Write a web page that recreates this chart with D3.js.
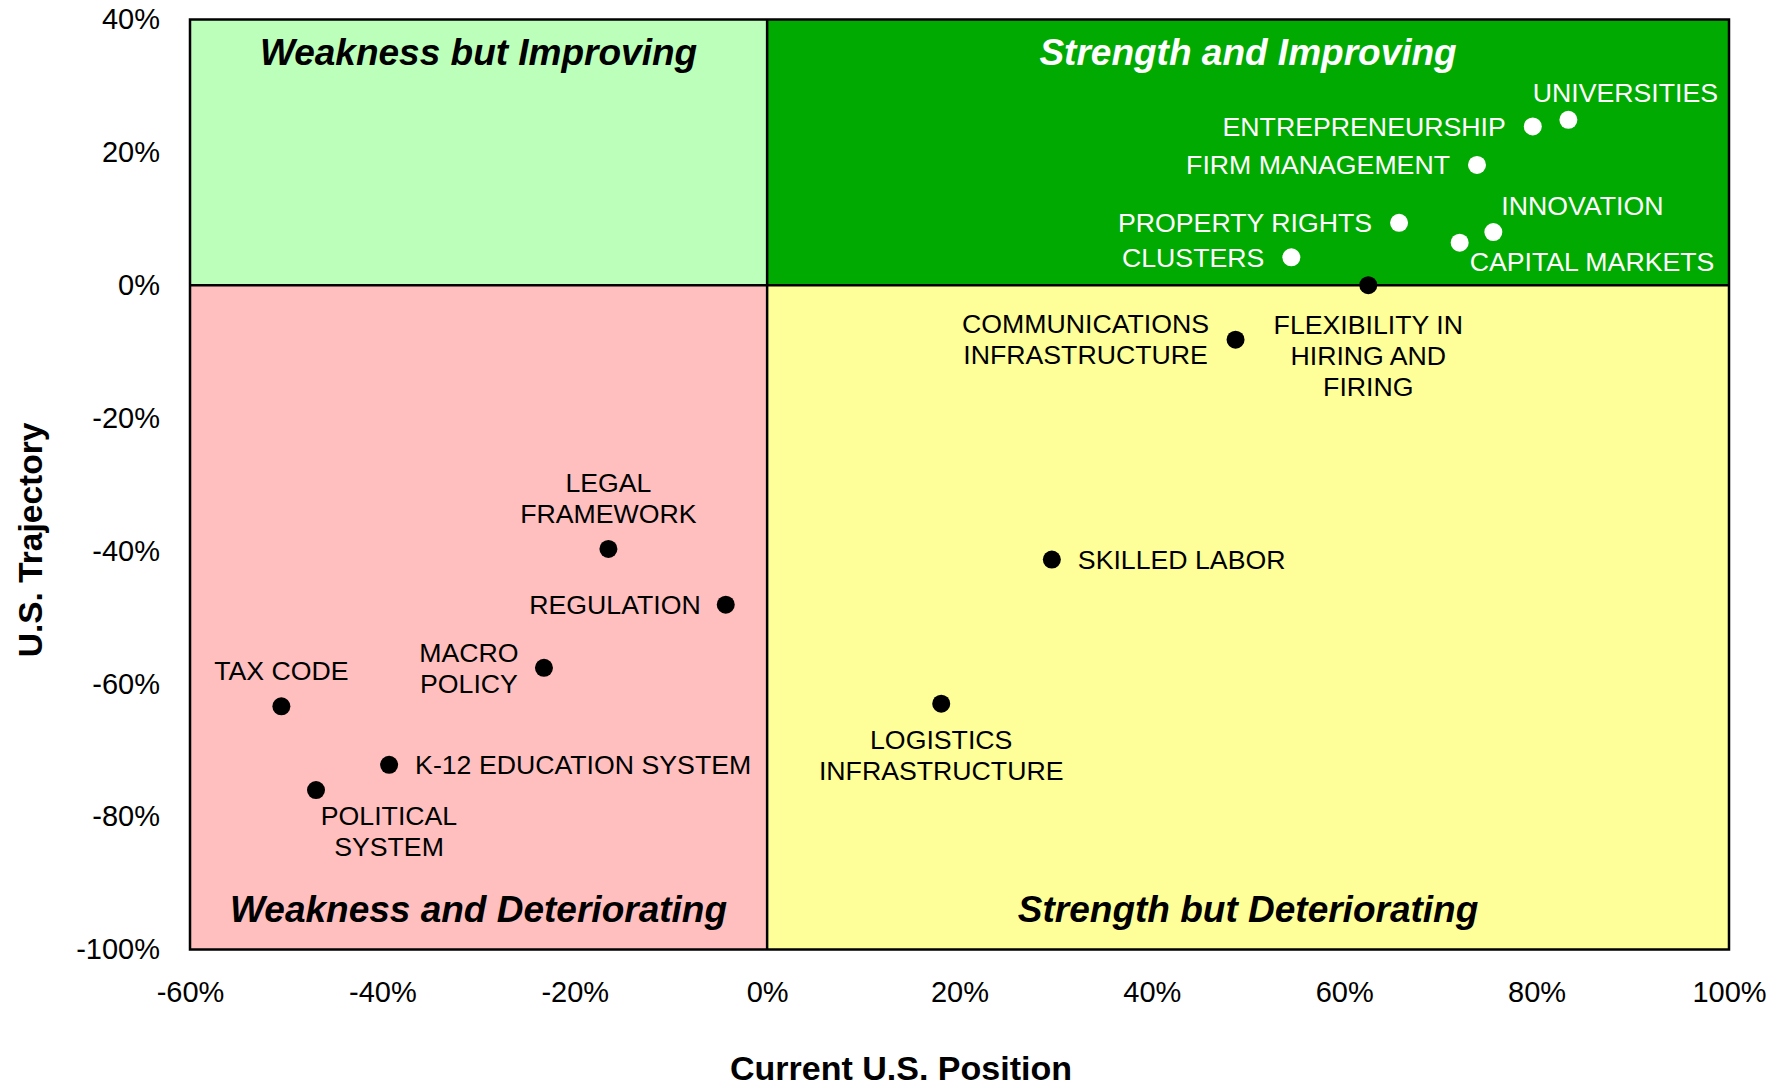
<!DOCTYPE html>
<html>
<head>
<meta charset="utf-8">
<script src="https://cdn.jsdelivr.net/npm/d3@7/dist/d3.min.js"></script>
<style>
  body { margin: 0; background: #ffffff; }
  svg { display: block; }
  text { font-family: "Liberation Sans", Arial, Helvetica, sans-serif; }
</style>
</head>
<body>
<svg class="quad-chart"></svg>
<script>
// factor names ("|" = line break in the label)
const names = [
  "UNIVERSITIES",
  "ENTREPRENEURSHIP",
  "FIRM MANAGEMENT",
  "PROPERTY RIGHTS",
  "INNOVATION",
  "CAPITAL MARKETS",
  "CLUSTERS",
  "FLEXIBILITY IN|HIRING AND|FIRING",
  "COMMUNICATIONS|INFRASTRUCTURE",
  "SKILLED LABOR",
  "LOGISTICS|INFRASTRUCTURE",
  "LEGAL|FRAMEWORK",
  "REGULATION",
  "MACRO|POLICY",
  "TAX CODE",
  "K-12 EDUCATION SYSTEM",
  "POLITICAL|SYSTEM"
];
// current U.S. position (x)
const position = [0.833, 0.796, 0.738, 0.657, 0.755, 0.72, 0.545, 0.625, 0.487,
  0.296, 0.181, -0.165, -0.043, -0.232, -0.505, -0.393, -0.469];
// U.S. trajectory (y)
const trajectory = [0.249, 0.239, 0.181, 0.094, 0.08, 0.064, 0.042, 0.0, -0.082,
  -0.413, -0.63, -0.397, -0.481, -0.576, -0.634, -0.722, -0.76];

const xTicks = [-0.6, -0.4, -0.2, 0, 0.2, 0.4, 0.6, 0.8, 1.0];
const yTicks = [0.4, 0.2, 0, -0.2, -0.4, -0.6, -0.8, -1.0];

const quadrantTitles = [
  "Weakness but Improving",
  "Strength and Improving",
  "Weakness and Deteriorating",
  "Strength but Deteriorating"
];

// where each label sits relative to its dot
const labelPlacement = {
  "UNIVERSITIES": { anchor: "middle", dx: 57, dy: -27 },
  "ENTREPRENEURSHIP": { anchor: "end", dx: -27, dy: 0 },
  "FIRM MANAGEMENT": { anchor: "end", dx: -27, dy: 0 },
  "PROPERTY RIGHTS": { anchor: "end", dx: -27, dy: 0 },
  "INNOVATION": { anchor: "start", dx: 8, dy: -26 },
  "CAPITAL MARKETS": { anchor: "start", dx: 10, dy: 19 },
  "CLUSTERS": { anchor: "end", dx: -27, dy: 0 },
  "FLEXIBILITY IN|HIRING AND|FIRING": { anchor: "middle", dx: 0, dy: 39 },
  "COMMUNICATIONS|INFRASTRUCTURE": { anchor: "middle", dx: -150, dy: -16 },
  "SKILLED LABOR": { anchor: "start", dx: 26, dy: 0 },
  "LOGISTICS|INFRASTRUCTURE": { anchor: "middle", dx: 0, dy: 36 },
  "LEGAL|FRAMEWORK": { anchor: "middle", dx: 0, dy: -66 },
  "REGULATION": { anchor: "end", dx: -25, dy: 0 },
  "MACRO|POLICY": { anchor: "middle", dx: -75, dy: -15 },
  "TAX CODE": { anchor: "middle", dx: 0, dy: -36 },
  "K-12 EDUCATION SYSTEM": { anchor: "start", dx: 26, dy: 0 },
  "POLITICAL|SYSTEM": { anchor: "middle", dx: 73, dy: 26 }
};

const W = 1785, H = 1088;
const margin = { top: 19.5, right: 56, bottom: 138.5, left: 190 };
const labelSize = 26.7, lineHeight = 31;

const svg = d3.select(".quad-chart").attr("width", W).attr("height", H);

const x = d3.scaleLinear()
  .domain([xTicks[0], xTicks[xTicks.length - 1]])
  .range([margin.left, W - margin.right]);
const y = d3.scaleLinear()
  .domain([yTicks[yTicks.length - 1], yTicks[0]])
  .range([H - margin.bottom, margin.top]);

const pct = function (d) {
  return d3.format(".0%")(d).replace("\u2212", "-");
};

// quadrant backgrounds
const quads = [
  { x0: xTicks[0], x1: 0, y0: 0, y1: yTicks[0], fill: "#bbffbb", color: "#000", top: true },
  { x0: 0, x1: xTicks[xTicks.length - 1], y0: 0, y1: yTicks[0], fill: "#00aa00", color: "#fff", top: true },
  { x0: xTicks[0], x1: 0, y0: yTicks[yTicks.length - 1], y1: 0, fill: "#ffbfbf", color: "#000", top: false },
  { x0: 0, x1: xTicks[xTicks.length - 1], y0: yTicks[yTicks.length - 1], y1: 0, fill: "#ffff99", color: "#000", top: false }
];

svg.append("g")
  .selectAll("rect")
  .data(quads)
  .enter()
  .append("rect")
  .attr("x", function (d) { return x(d.x0); })
  .attr("y", function (d) { return y(d.y1); })
  .attr("width", function (d) { return x(d.x1) - x(d.x0); })
  .attr("height", function (d) { return y(d.y0) - y(d.y1); })
  .attr("fill", function (d) { return d.fill; });

svg.append("g")
  .selectAll("text")
  .data(quads)
  .enter()
  .append("text")
  .attr("x", function (d) { return (x(d.x0) + x(d.x1)) / 2; })
  .attr("y", function (d) { return d.top ? y(d.y1) + 45 : y(d.y0) - 28; })
  .attr("text-anchor", "middle")
  .style("font-size", "37px")
  .style("font-weight", "bold")
  .style("font-style", "italic")
  .style("fill", function (d) { return d.color; })
  .text(function (d, i) { return quadrantTitles[i]; });

// zero lines and frame
svg.append("line")
  .attr("x1", x(xTicks[0])).attr("x2", x(xTicks[xTicks.length - 1]))
  .attr("y1", y(0)).attr("y2", y(0))
  .attr("stroke", "#000").attr("stroke-width", 2.5);
svg.append("line")
  .attr("x1", x(0)).attr("x2", x(0))
  .attr("y1", y(yTicks[0])).attr("y2", y(yTicks[yTicks.length - 1]))
  .attr("stroke", "#000").attr("stroke-width", 2.5);
svg.append("rect")
  .attr("x", x(xTicks[0]))
  .attr("y", y(yTicks[0]))
  .attr("width", x(xTicks[xTicks.length - 1]) - x(xTicks[0]))
  .attr("height", y(yTicks[yTicks.length - 1]) - y(yTicks[0]))
  .attr("fill", "none")
  .attr("stroke", "#000")
  .attr("stroke-width", 2.5);

// axes (labels only)
const yAxis = svg.append("g")
  .attr("transform", "translate(" + margin.left + ",0)")
  .call(d3.axisLeft(y).tickValues(yTicks).tickFormat(pct).tickSize(0).tickPadding(30));
const xAxis = svg.append("g")
  .attr("transform", "translate(0," + (H - margin.bottom) + ")")
  .call(d3.axisBottom(x).tickValues(xTicks).tickFormat(pct).tickSize(0).tickPadding(32));
[xAxis, yAxis].forEach(function (a) {
  a.select(".domain").remove();
  a.selectAll("text")
    .style("font-family", "\"Liberation Sans\", Arial, sans-serif")
    .style("font-size", "29px")
    .style("fill", "#000");
});

// axis titles
svg.append("text")
  .attr("x", 901)
  .attr("y", 1080)
  .attr("text-anchor", "middle")
  .style("font-size", "34px")
  .style("font-weight", "bold")
  .text("Current U.S. Position");
svg.append("text")
  .attr("transform", "translate(42,540) rotate(-90)")
  .attr("text-anchor", "middle")
  .style("font-size", "33.5px")
  .style("font-weight", "bold")
  .text("U.S. Trajectory");

// points
const points = names.map(function (n, i) {
  return { name: n, px: position[i], py: trajectory[i] };
});
const inGreen = function (d) { return d.px > 0 && d.py > 0.005; };

svg.append("g")
  .selectAll("circle")
  .data(points)
  .enter()
  .append("circle")
  .attr("cx", function (d) { return x(d.px); })
  .attr("cy", function (d) { return y(d.py); })
  .attr("r", 9)
  .attr("fill", function (d) { return inGreen(d) ? "#fff" : "#000"; });

const labels = svg.append("g")
  .selectAll("text")
  .data(points)
  .enter()
  .append("text")
  .attr("text-anchor", function (d) { return labelPlacement[d.name].anchor; })
  .style("font-size", labelSize + "px")
  .style("fill", function (d) { return inGreen(d) ? "#fff" : "#000"; });

labels.each(function (d) {
  const p = labelPlacement[d.name];
  const cx = x(d.px) + p.dx;
  const cy = y(d.py) + p.dy + labelSize * 0.35;
  d3.select(this)
    .selectAll("tspan")
    .data(d.name.split("|"))
    .enter()
    .append("tspan")
    .attr("x", cx)
    .attr("y", function (t, k) { return cy + k * lineHeight; })
    .text(function (t) { return t; });
});
</script>
</body>
</html>
